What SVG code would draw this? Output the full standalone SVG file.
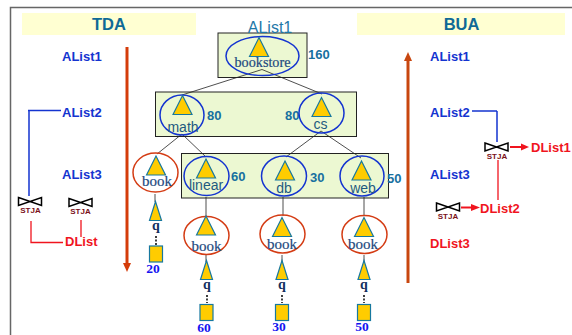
<svg xmlns="http://www.w3.org/2000/svg" width="572" height="335" viewBox="0 0 572 335">
<defs>
<g id="bt"><path d="M-9.500,0 L0,-19 L9.500,0 Z" class="tri"/></g>
<g id="qt"><path d="M-6,0 L0,-19 L6,0 Z" class="tri"/></g>
<g id="bow"><path d="M-11.500,-8 L11.500,0 L11.500,-8 L-11.500,0 Z" fill="#fff" stroke="#000" stroke-width="1.500"/></g>
</defs>
<style>
text{font-family:"Liberation Sans",Arial,sans-serif}
.tri{fill:#fc0;stroke:#17789f;stroke-width:1.200}
.box{fill:#ecf8d2;stroke:#222;stroke-width:1}
.blue{fill:none;stroke:#1434d0;stroke-width:1.500}
.red{fill:none;stroke:#d43c14;stroke-width:1.500}
.edge{fill:none;stroke:#222;stroke-width:.8}
.lab{font-size:14px;fill:#1e5a80;text-anchor:middle}
.ser{font-family:"Liberation Serif",serif;font-size:15px;fill:#1e4a80;text-anchor:middle;stroke:#1e4a80;stroke-width:.2}
.num{font-size:13px;font-weight:bold;fill:#17709f}
.al{font-size:13px;font-weight:bold;fill:#1434d0}
.dl{font-size:13px;font-weight:bold;fill:#f0141e}
.st{font-size:8px;font-weight:bold;fill:#7a1018;text-anchor:middle}
.qq{font-family:"Liberation Serif",serif;font-size:14px;font-weight:bold;fill:#12305f;text-anchor:middle}
.val{font-family:"Liberation Serif",serif;font-size:13.500px;font-weight:bold;fill:#1414f0;text-anchor:middle}
.sq{fill:#fc0;stroke:#17789f;stroke-width:1.200}
.hd{font-size:16.500px;font-weight:bold;fill:#0f6a96;text-anchor:middle}
</style>
<path d="M572,7.500 H10.500 V335" fill="none" stroke="#666" stroke-width="1.500"/>
<rect x="22" y="13" width="174" height="22" fill="#ffffd2"/>
<rect x="357" y="13" width="208" height="22" fill="#ffffd2"/>
<text x="109" y="30" class="hd">TDA</text>
<text x="461.500" y="30" class="hd">BUA</text>
<rect x="218" y="33" width="89" height="44.500" class="box"/>
<rect x="155.500" y="92" width="201" height="44.500" class="box"/>
<rect x="181.500" y="153.500" width="207" height="44.500" class="box"/>
<text x="270" y="33" style="font-size:16px;fill:#1e78a8;text-anchor:middle">AList1</text>
<g id="connectors">
<path class="edge" d="M262,69.500 L182,95 M262,69.500 L322,94 M182,134 L157,154 M182,134 L206,157 M321,131 L286,157 M321,131 L361,158 M206,197 V216 M283,197 V216 M364,197 V216 M206,255 V262 M282,255 V262 M364,255 V262 M155,194 V202"/>
<path d="M156,236 V246 M207,295 V303 M282,295 V303 M364,295 V303" fill="none" stroke="#000" stroke-width="1.500" stroke-dasharray="2 1.500"/>
<path class="blue" d="M29,196 V110.500 M28,110.500 H61 M497,142 V111 M472,111 H497"/>
<path d="M31,221 V242.500 H63 M81,220 V237" fill="none" stroke="#f0141e" stroke-width="1.300"/>
<path d="M498,160 V200" fill="none" stroke="#f0141e" stroke-width="1.300"/>
<path d="M127,47 V263" stroke="#d43c0a" stroke-width="3" fill="none"/>
<path d="M123,263 H131 L127,272 Z" fill="#d43c0a"/>
<path d="M408,283 V60" stroke="#c8460f" stroke-width="3" fill="none"/>
<path d="M404,61 L408,52 L412,61 Z" fill="#c8460f"/>
<path d="M510,147 H523" stroke="#f0141e" stroke-width="2" fill="none"/>
<path d="M521,143.500 L529,147 L521,150.500 Z" fill="#f0141e"/>
<path d="M461,207.500 H473" stroke="#f0141e" stroke-width="2" fill="none"/>
<path d="M471,204 L480,207.500 L471,211 Z" fill="#f0141e"/>
</g>
<g id="bookstore"><ellipse cx="262.500" cy="56" rx="36.500" ry="19.500" class="blue"/><use href="#bt" x="259" y="56.500"/><text x="262.500" y="67" class="ser" style="font-size:14.200px">bookstore</text></g>
<text x="308" y="58.500" class="num">160</text>
<g id="math"><ellipse cx="182" cy="115" rx="22" ry="20" class="blue"/><use href="#bt" x="182.500" y="114.500"/><text x="183" y="131.500" class="lab">math</text></g>
<text x="207" y="120" class="num">80</text>
<text x="285" y="120" class="num">80</text>
<g id="cs"><ellipse cx="321.500" cy="113" rx="22.500" ry="20" class="blue"/><use href="#bt" x="321.500" y="116.500"/><text x="320.500" y="129" class="lab">cs</text></g>
<g id="book1"><ellipse cx="155.500" cy="172.500" rx="22.500" ry="19.500" class="red"/><use href="#bt" x="156" y="175"/><text x="157" y="186" class="ser">book</text></g>
<g id="linear"><ellipse cx="206.500" cy="176" rx="22.500" ry="19.500" class="blue"/><use href="#bt" x="206" y="178"/><text x="206" y="190" class="lab">linear</text></g>
<text x="231" y="181" class="num">60</text>
<g id="db"><ellipse cx="284" cy="176" rx="22.500" ry="20" class="blue"/><use href="#bt" x="285" y="180"/><text x="284" y="193" class="lab">db</text></g>
<text x="310" y="182" class="num">30</text>
<g id="web"><ellipse cx="362" cy="176" rx="22" ry="20" class="blue"/><use href="#bt" x="361.500" y="180"/><text x="363" y="193" class="lab">web</text></g>
<text x="387" y="183" class="num">50</text>
<g id="book2"><ellipse cx="206.500" cy="235.500" rx="22.500" ry="19" class="red"/><use href="#bt" x="206" y="235"/><text x="206.500" y="251" class="ser">book</text></g>
<g id="book3"><ellipse cx="282.500" cy="234" rx="22.500" ry="19" class="red"/><use href="#bt" x="282" y="236.500"/><text x="282" y="249" class="ser">book</text></g>
<g id="book4"><ellipse cx="364.500" cy="234.500" rx="22.500" ry="19" class="red"/><use href="#bt" x="364" y="236.500"/><text x="363" y="249" class="ser">book</text></g>
<g id="leaf20"><use href="#qt" x="155.500" y="220.500"/><text x="156" y="229.500" class="qq">q</text><rect x="149.500" y="246" width="13" height="16" class="sq"/><text x="153" y="272.500" class="val">20</text></g>
<g id="leaf60"><use href="#qt" x="206.500" y="279.500"/><text x="207" y="288.500" class="qq">q</text><rect x="200" y="304.500" width="13" height="16" class="sq"/><text x="204" y="332" class="val">60</text></g>
<g id="leaf30"><use href="#qt" x="282" y="279.500"/><text x="282" y="288.500" class="qq">q</text><rect x="275.500" y="304.500" width="13" height="16" class="sq"/><text x="279" y="331" class="val">30</text></g>
<g id="leaf50"><use href="#qt" x="364" y="279.500"/><text x="364" y="288.500" class="qq">q</text><rect x="357.500" y="304.500" width="13" height="16" class="sq"/><text x="362" y="331" class="val">50</text></g>
<text x="62" y="61" class="al">AList1</text>
<text x="62" y="117" class="al">AList2</text>
<text x="62" y="179" class="al">AList3</text>
<text x="65" y="246" class="dl">DList</text>
<text x="430" y="61" class="al">AList1</text>
<text x="430" y="117" class="al">AList2</text>
<text x="430" y="179" class="al">AList3</text>
<text x="430" y="248" class="dl">DList3</text>
<text x="531" y="152" class="dl">DList1</text>
<text x="480" y="213" class="dl">DList2</text>
<g id="stja1"><use href="#bow" x="30" y="205.500"/><text x="30.500" y="213" class="st">STJA</text></g>
<g id="stja2"><use href="#bow" x="80.500" y="206.500"/><text x="80.500" y="214" class="st">STJA</text></g>
<g id="stja3"><use href="#bow" x="496.500" y="151"/><text x="497" y="159" class="st">STJA</text></g>
<g id="stja4"><use href="#bow" x="448" y="211"/><text x="448" y="219" class="st">STJA</text></g>
</svg>
